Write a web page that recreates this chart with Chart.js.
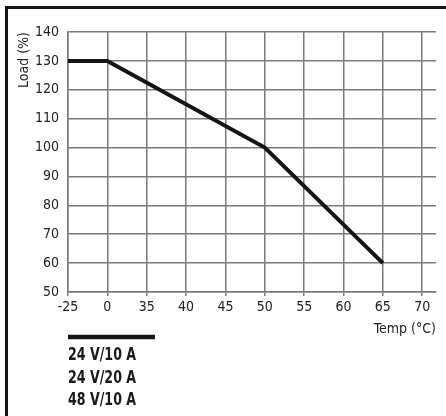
<!DOCTYPE html>
<html>
<head>
<meta charset="utf-8">
<script src="https://cdn.jsdelivr.net/npm/chart.js@4/dist/chart.umd.min.js"></script>
<style>
  html, body { margin: 0; padding: 0; background: #fff; }
  #wrap { position: relative; width: 446px; height: 416px; overflow: hidden; }
  #frame {
    position: absolute; left: 5px; top: 6px; right: 0; bottom: 0;
    border-left: 3px solid #151515; border-top: 3px solid #151515;
  }
  canvas { position: absolute; left: 0; top: 0; }
</style>
</head>
<body>
<div id="wrap">
  <div id="frame"></div>
  <canvas id="derating" width="446" height="416"></canvas>
</div>
<script>
const tempLabels = ["-25", "0", "35", "40", "45", "50", "55", "60", "65", "70"];
const loadValues = [130, 130, null, null, null, 100, null, null, 60, null];
const loadTicks = [50, 60, 70, 80, 90, 100, 110, 120, 130, 140];
const seriesNames = ["24 V/10 A", "24 V/20 A", "48 V/10 A"];

const FONT = "'Liberation Sans Narrow', 'DejaVu Sans Condensed', 'Liberation Sans', sans-serif";
const gridColor = "#7a7a7a";

// legend sits under the plot: one thick rule, then the three models
const legendPlugin = {
  id: "legendBlock",
  afterDraw(chart) {
    const { ctx, chartArea } = chart;
    const x = chartArea.left;
    ctx.save();
    ctx.strokeStyle = "#151515";
    ctx.lineWidth = 4.5;
    ctx.beginPath();
    ctx.moveTo(x, 337);
    ctx.lineTo(x + 87, 337);
    ctx.stroke();

    ctx.fillStyle = "#1a1a1a";
    ctx.font = "bold 18px " + FONT;
    ctx.textBaseline = "alphabetic";
    ctx.textAlign = "left";
    ctx.translate(x, 0);
    ctx.scale(0.78, 1);
    seriesNames.forEach((name, i) => {
      ctx.fillText(name, 0, 360 + i * 22.5);
    });
    ctx.restore();
  },
};

const points = tempLabels.map((t, i) => ({ x: i, y: loadValues[i] }));

new Chart(document.getElementById("derating"), {
  type: "line",
  data: {
    datasets: [
      {
        label: seriesNames.join(", "),
        data: points,
        borderColor: "#151515",
        borderWidth: 4,
        pointRadius: 0,
        tension: 0,
        spanGaps: true,
      },
    ],
  },
  options: {
    responsive: false,
    animation: false,
    layout: {
      padding: { left: 0, right: 10, top: 32, bottom: 74 },
    },
    plugins: {
      legend: { display: false },
      tooltip: { enabled: false },
    },
    scales: {
      x: {
        type: "linear",
        min: 0,
        max: 9.35,
        afterBuildTicks: (axis) => {
          axis.ticks = tempLabels.map((t, i) => ({ value: i }));
        },
        afterFit: (scale) => {
          scale.height = 50;
        },
        ticks: {
          autoSkip: false,
          maxRotation: 0,
          padding: 3,
          color: "#222",
          font: { family: FONT, size: 14 },
          callback: (v) => tempLabels[v] ?? "",
        },
        grid: { color: gridColor, lineWidth: 1.5, tickLength: 4 },
        border: { color: gridColor, width: 1.5 },
        title: {
          display: true,
          text: "Temp (°C)",
          align: "end",
          color: "#222",
          font: { family: FONT, size: 14 },
          padding: { top: 0, bottom: 4 },
        },
      },
      y: {
        type: "linear",
        min: loadTicks[0],
        max: loadTicks[loadTicks.length - 1],
        afterBuildTicks: (axis) => {
          axis.ticks = loadTicks.map((v) => ({ value: v }));
        },
        afterFit: (scale) => {
          scale.width = 68;
        },
        ticks: {
          padding: 9,
          color: "#222",
          font: { family: FONT, size: 14 },
        },
        grid: { color: gridColor, lineWidth: 1.5, tickLength: 0 },
        border: { color: gridColor, width: 1.5 },
        title: {
          display: true,
          text: "Load (%)",
          align: "end",
          color: "#222",
          font: { family: FONT, size: 14 },
          padding: { top: 16, bottom: 0 },
        },
      },
    },
  },
  plugins: [legendPlugin],
});
</script>
</body>
</html>
